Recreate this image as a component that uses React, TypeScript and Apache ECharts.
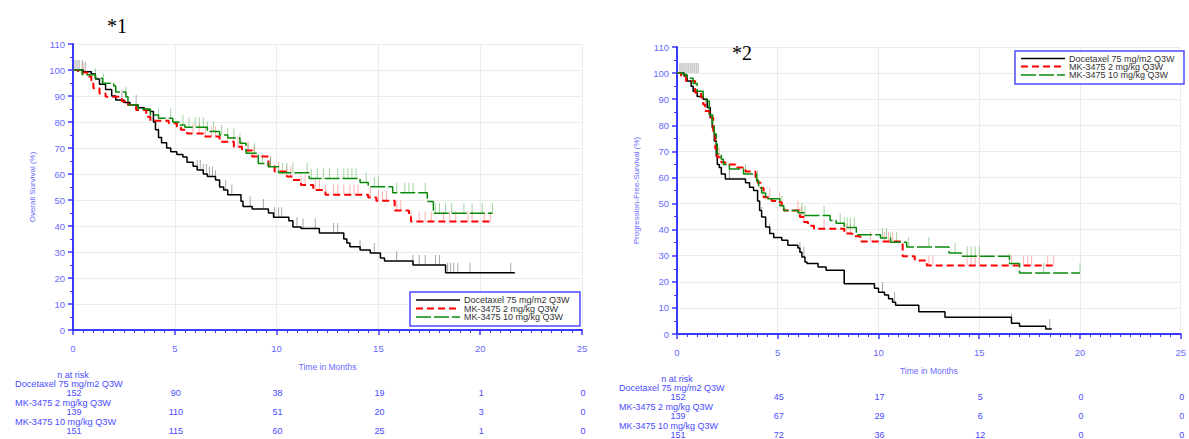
import React, { useEffect, useRef } from "react";
import * as echarts from "echarts";

const seriesNames = ["Docetaxel 75 mg/m2 Q3W", "MK-3475 2 mg/kg Q3W", "MK-3475 10 mg/kg Q3W"];
const riskTimes = [0, 5, 10, 15, 20, 25];

// Overall survival (left panel): [month, %]
const osDocetaxel = [[0,100],[0.5,99.3],[0.9,98.5],[1.1,96.5],[1.3,94.5],[1.6,92.5],[1.9,90],[2.1,88.5],[2.5,87.5],[2.8,86.5],[3.2,85.5],[3.5,84.6],[3.8,84],[3.95,80],[4.05,77],[4.2,74],[4.35,72],[4.6,70],[4.8,68.6],[5.1,67.5],[5.4,66.5],[5.6,64.5],[5.9,63],[6.1,61.5],[6.4,60],[6.6,59],[7.0,57.7],[7.2,55],[7.4,53.8],[7.6,52],[8.25,49.5],[8.35,47.5],[8.8,46.5],[9.6,45],[9.85,43.4],[10.6,42],[10.8,39.6],[11.2,39],[12.1,37.3],[13.3,35],[13.45,33.5],[13.6,32],[14.1,30.8],[14.6,29.6],[15.1,27.7],[15.3,26.5],[16.7,25],[18.3,22],[21.7,22]];
const osMk2 = [[0,100],[0.25,99],[0.7,97.5],[0.9,96],[1.0,93],[1.3,91],[1.6,89.7],[2.4,88],[2.7,86.5],[3.1,84.6],[3.6,82],[3.8,80.5],[4.7,79.5],[5.1,78],[5.3,77],[5.6,75.6],[6.4,74.4],[7.2,72.4],[7.9,70.5],[8.3,69],[8.8,66.7],[9.6,63],[9.9,61],[10.5,59],[10.8,57.7],[11.2,55.8],[11.8,53.8],[12.4,52],[14.5,51],[14.9,49.7],[15.8,46],[16.5,43.6],[16.6,41.7],[20.6,41.7]];
const osMk10 = [[0,100],[0.45,98.2],[1.1,96.8],[1.45,94.9],[2.0,93.8],[2.1,91.5],[2.6,89.7],[2.7,86.5],[3.2,85],[3.8,82.7],[4.2,81.4],[4.9,80],[5.2,78.8],[5.5,78],[6.6,76.3],[7.2,75],[7.6,73.8],[8.2,71.8],[8.5,68],[9.1,64],[9.6,62.8],[10.1,60.5],[11.6,58.3],[14.1,56.7],[14.5,55.1],[15.7,52.8],[17.4,49.4],[17.7,44.9],[20.6,44.9]];
const osDocetaxelCensor = [0.1,0.2,0.3,0.45,0.6,2.4,3.1,4.2,6.1,6.25,6.4,6.55,6.7,6.85,7.0,7.5,7.8,8.7,9.35,9.9,10.1,10.25,11.0,11.3,11.9,12.8,13.0,14.1,14.8,15.9,16.7,17.0,17.3,17.8,18.0,18.4,18.55,18.7,18.9,19.5,21.5];
const osMk2Censor = [0.5,5.9,6.2,6.5,6.8,7.0,7.9,8.1,8.3,8.6,8.9,9.7,10.1,10.5,10.7,11.2,11.4,11.9,12.1,12.4,12.8,13.0,13.3,13.6,13.8,14.0,14.6,15.0,15.2,15.4,15.9,16.1,16.6,17.0,17.3,17.6,18.2,18.5,18.8,19.4,19.6,20.2,20.5];
const osMk10Censor = [1.1,1.5,2.6,4.2,4.8,5.4,5.7,6.0,6.2,6.4,6.6,6.9,7.3,7.6,7.9,8.2,8.6,8.9,9.3,9.7,10.3,10.5,10.8,11.5,11.7,12.0,12.3,12.6,13.0,13.3,13.5,13.7,13.9,14.4,14.8,15.0,15.9,16.3,16.5,16.7,17.3,17.8,18.0,18.3,18.6,19.2,19.6,20.1,20.6];

// Progression-free survival (right panel): [month, %]
const pfsDocetaxel = [[0,100],[0.35,98.9],[0.5,97],[0.7,95],[0.8,93],[1.0,91],[1.3,90],[1.5,86.8],[1.65,83],[1.75,79],[1.85,74],[1.95,68],[2.0,65],[2.1,63.8],[2.2,61.3],[2.4,59.4],[3.4,58],[3.6,56.2],[3.8,55],[4.0,51],[4.1,47.3],[4.2,44.8],[4.4,41],[4.6,38.5],[4.8,37],[5.2,35.9],[5.5,34],[6.0,33],[6.1,31.3],[6.2,29.5],[6.35,27.6],[6.45,27],[7.0,25.7],[7.4,24.4],[8.3,19.3],[9.8,17.5],[10.0,16],[10.3,14.9],[10.5,13.5],[10.7,12.2],[10.85,11],[12.0,8.5],[13.3,6.4],[16.6,4.1],[17.0,3],[18.3,1.9],[18.6,1.9]];
const pfsMk2 = [[0,100],[0.2,99],[0.45,97],[0.9,92.5],[1.2,90.6],[1.3,88],[1.4,85.5],[1.6,83],[1.8,76.7],[1.9,71],[2.0,67.7],[2.2,65.8],[2.4,65],[2.9,63.8],[3.4,62.3],[3.9,60],[4.0,58],[4.15,56],[4.3,52.4],[4.7,51],[5.0,50.5],[5.2,48.6],[5.3,47.3],[6.1,44.8],[6.3,42.9],[6.5,41.5],[6.8,40.3],[8.3,38.5],[8.7,37.5],[9.1,35.5],[11.2,29.8],[11.8,28.2],[12.4,26.3],[18.8,26.3]];
const pfsMk10 = [[0,100],[0.3,99.5],[0.5,98],[0.8,96],[1.0,93],[1.3,90.6],[1.45,89.3],[1.6,84],[1.75,80.5],[1.85,76.7],[1.95,72.8],[2.0,69],[2.2,67],[2.3,65],[2.6,63.2],[3.3,61.3],[3.95,58.8],[4.05,56.2],[4.2,54],[4.4,51.8],[5.1,49.2],[5.3,47.3],[6.0,46.5],[6.3,45.4],[7.6,43.5],[7.9,42.4],[8.3,40.8],[8.9,38],[10.1,36.8],[10.6,35.2],[11.4,33.3],[13.5,31],[14.1,29.8],[16.5,27],[17.0,23.4],[20.0,23.4]];
const pfsDocetaxelBaselineCensor = [0.15,0.25,0.35,0.45,0.55,0.65,0.75,0.85,0.95,1.05];
const pfsDocetaxelCensor = [2.6,4.2,4.6,6.1,6.3,8.3,10.2,10.8,16.6,18.5];
const pfsMk2Censor = [1.4,2.1,4.6,5.1,6.0,6.1,6.2,6.3,7.3,8.4,8.6,9.6,10.3,10.5,10.7,12.5,12.7,14.4,14.6,14.8,15.0,16.6,17.2,17.4,17.6,18.4,18.7];
const pfsMk10Censor = [1.8,3.4,4.0,5.2,6.2,6.35,7.3,8.1,8.3,8.45,8.6,8.8,10.2,10.4,10.6,10.9,11.5,12.5,13.8,14.4,14.6,14.8,15.0,16.5,18.2,20.0];

// Numbers at risk
const riskOsDocetaxel = [152, 90, 38, 19, 1, 0];
const riskOsMk2 = [139, 110, 51, 20, 3, 0];
const riskOsMk10 = [151, 115, 60, 25, 1, 0];
const riskPfsDocetaxel = [152, 45, 17, 5, 0, 0];
const riskPfsMk2 = [139, 67, 29, 6, 0, 0];
const riskPfsMk10 = [151, 72, 36, 12, 0, 0];

const FONT = "Liberation Sans, Arial, sans-serif";
const AXIS_BLUE = "#3a3aff";
const LABEL_BLUE = "#6a6aff";
const TABLE_BLUE = "#4a4aff";
const lineColors = ["#000000", "#ff0000", "#0a8a0a"];
const censorColors = ["rgba(60,60,60,0.55)", "rgba(255,60,60,0.5)", "rgba(40,160,40,0.55)"];
const lineTypes: any[] = ["solid", [7, 4], [15, 3]];
const lineWidths = [1.5, 2, 1.5];

function valueAt(curve: number[][], t: number) {
  let v = curve[0][1];
  for (const p of curve) {
    if (p[0] <= t) v = p[1];
    else break;
  }
  return v;
}

function xAxisFor(gi: number) {
  return {
    type: "value", gridIndex: gi, min: 0, max: 25, interval: 5,
    axisLine: { show: true, onZero: false, lineStyle: { color: AXIS_BLUE, width: 2 } },
    axisTick: { show: true, length: 5, lineStyle: { color: AXIS_BLUE, width: 1.5 } },
    minorTick: { show: true, splitNumber: 10, length: 3, lineStyle: { color: AXIS_BLUE, width: 1 } },
    axisLabel: { color: LABEL_BLUE, fontSize: 9.5, margin: 13, fontFamily: FONT },
    splitLine: { show: true, lineStyle: { color: "#ebebeb", width: 1 } },
    name: "Time in Months", nameLocation: "middle", nameGap: 32,
    nameTextStyle: { color: LABEL_BLUE, fontSize: 8.5, fontFamily: FONT },
  };
}

function yAxisFor(gi: number, name: string) {
  return {
    type: "value", gridIndex: gi, min: 0, max: 110, interval: 10,
    axisLine: { show: true, lineStyle: { color: AXIS_BLUE, width: 2 } },
    axisTick: { show: true, length: 5, lineStyle: { color: AXIS_BLUE, width: 1.5 } },
    minorTick: { show: true, splitNumber: 2, length: 3, lineStyle: { color: AXIS_BLUE, width: 1 } },
    axisLabel: { color: LABEL_BLUE, fontSize: 9.5, margin: 8, fontFamily: FONT },
    splitLine: { show: true, lineStyle: { color: "#ebebeb", width: 1 } },
    name, nameLocation: "middle", nameGap: 37, nameRotate: 90,
    nameTextStyle: { color: LABEL_BLUE, fontSize: 8, fontFamily: FONT },
  };
}

function panelSeries(gi: number, curves: number[][][], censors: number[][]) {
  const out: any[] = [];
  curves.forEach((curve, i) => {
    out.push({
      type: "scatter", name: seriesNames[i] + " censored", xAxisIndex: gi, yAxisIndex: gi,
      data: censors[i].map((t) => [t, valueAt(curve, t)]),
      symbol: "rect", symbolSize: [1, 10], symbolOffset: [0, -5],
      itemStyle: { color: censorColors[i] }, silent: true, z: 1,
    });
  });
  [1, 2, 0].forEach((i) => {
    out.push({
      type: "line", name: seriesNames[i], xAxisIndex: gi, yAxisIndex: gi,
      data: curves[i], step: "end", symbol: "none",
      lineStyle: { color: lineColors[i], width: lineWidths[i], type: lineTypes[i] },
      silent: true, z: 2 + i,
    });
  });
  return out;
}

function legendGraphic(x: number, y: number, w: number, h: number, rowYs: number[]) {
  const children: any[] = [
    { type: "rect", shape: { x, y, width: w, height: h }, style: { fill: "#fff", stroke: "#4b4bff", lineWidth: 1.5 } },
  ];
  rowYs.forEach((ry, i) => {
    children.push({
      type: "line", shape: { x1: x + 6, y1: ry, x2: x + 50, y2: ry },
      style: { stroke: lineColors[i], lineWidth: lineWidths[i], lineDash: lineTypes[i] === "solid" ? null : lineTypes[i] },
    });
    children.push({
      type: "text", x: x + 54, y: ry,
      style: { text: seriesNames[i], fill: "#333", font: `9px ${FONT}`, verticalAlign: "middle", align: "left" },
    });
  });
  return { type: "group", children, z: 100 };
}

export default function App() {
  const ref = useRef<HTMLDivElement>(null);

  useEffect(() => {
    if (!ref.current) return;
    const chart = echarts.init(ref.current, null, { renderer: "svg" });
    const option: any = {
      animation: false,
      backgroundColor: "#ffffff",
      grid: [
        { left: 73, top: 44, width: 509, height: 286 },
        { left: 677, top: 47, width: 510, height: 287 },
      ],
      xAxis: [xAxisFor(0), xAxisFor(1)],
      yAxis: [yAxisFor(0, "Overall Survival (%)"), yAxisFor(1, "Progression-Free-Survival (%)")],
      series: [
        ...panelSeries(0, [osDocetaxel, osMk2, osMk10], [osDocetaxelCensor, osMk2Censor, osMk10Censor]),
        ...panelSeries(1, [pfsDocetaxel, pfsMk2, pfsMk10], [pfsDocetaxelCensor, pfsMk2Censor, pfsMk10Censor]),
        {
          type: "scatter", name: "Docetaxel baseline censored", xAxisIndex: 1, yAxisIndex: 1,
          data: pfsDocetaxelBaselineCensor.map((t) => [t, 100]),
          symbol: "rect", symbolSize: [1, 10], symbolOffset: [0, -5],
          itemStyle: { color: censorColors[0] }, silent: true, z: 1,
        },
      ],
    };
    chart.setOption(option);

    const px = (gi: number, t: number) => chart.convertToPixel({ xAxisIndex: gi } as any, t) as number;
    const graphics: any[] = [];
    const tables = [
      { gi: 0, top: 375, labelFont: 9.2, rows: [riskOsDocetaxel, riskOsMk2, riskOsMk10] },
      { gi: 1, top: 379, labelFont: 9, rows: [riskPfsDocetaxel, riskPfsMk2, riskPfsMk10] },
    ];
    tables.forEach((tb) => {
      const x0 = px(tb.gi, 0);
      graphics.push({
        type: "text", x: x0, y: tb.top,
        style: { text: "n at risk", fill: TABLE_BLUE, font: `9px ${FONT}`, align: "center", verticalAlign: "middle" },
      });
      tb.rows.forEach((vals, r) => {
        const ly = tb.top + 9 + r * 19;
        graphics.push({
          type: "text", x: x0 - 58, y: ly,
          style: { text: seriesNames[r], fill: TABLE_BLUE, font: `${tb.labelFont}px ${FONT}`, align: "left", verticalAlign: "middle" },
        });
        vals.forEach((v, c) => {
          graphics.push({
            type: "text", x: px(tb.gi, riskTimes[c]) + 1, y: ly + 9,
            style: { text: String(v), fill: TABLE_BLUE, font: `9px ${FONT}`, align: "center", verticalAlign: "middle" },
          });
        });
      });
    });
    graphics.push(legendGraphic(410, 292, 170, 34, [300, 308.5, 317]));
    graphics.push(legendGraphic(1015, 51, 169, 33, [58.5, 66.5, 75]));
    graphics.push({
      type: "text", x: 107, y: 26,
      style: { text: "*1", fill: "#000", font: `20px "Liberation Serif", "Times New Roman", serif`, align: "left", verticalAlign: "middle" },
    });
    graphics.push({
      type: "text", x: 732, y: 53,
      style: { text: "*2", fill: "#000", font: `20px "Liberation Serif", "Times New Roman", serif`, align: "left", verticalAlign: "middle" },
    });
    chart.setOption({ graphic: graphics });

    return () => chart.dispose();
  }, []);

  return (
    <div
      ref={ref}
      style={{ position: "fixed", left: 0, top: 0, width: 1189, height: 439, background: "#fff" }}
    />
  );
}
